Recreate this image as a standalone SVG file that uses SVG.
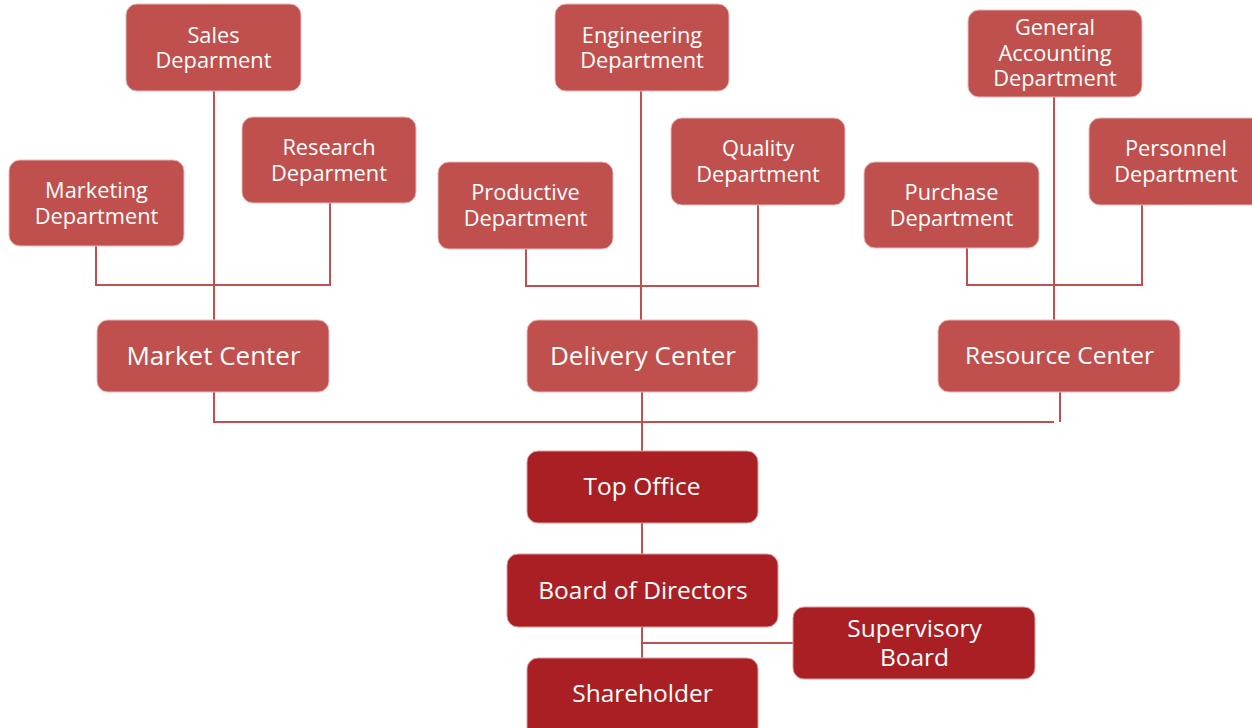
<svg xmlns="http://www.w3.org/2000/svg" width="1252" height="728" viewBox="0 0 1252 728">
<style>
.l{fill:#C0504D;stroke:#E8B9B8;stroke-width:1}
.d{fill:#A91F23;stroke:#D9A0A0;stroke-width:1}
.t{font-family:"Open Sans","Noto Sans",sans-serif;fill:#FFFFFF;text-anchor:middle}
.s{font-size:21.8px}
.m{font-size:24.5px}
.b{font-size:26px}
.c{stroke:#C0504D;stroke-width:2;fill:none}
</style>
<rect width="1252" height="728" fill="#FFFFFF"/>
<g id="connectors">
<path class="c" d="M214 91V320M96 246V285H330V203"/>
<path class="c" d="M641 91V320M526 249V286H758V205"/>
<path class="c" d="M1054 97V320M967 248V285H1142V205"/>
<path class="c" d="M214 392V422H1054M1060 392V422M642 392V451"/>
<path class="c" d="M642 523V554M642 627V658M642 643H793"/>
</g>
<g id="sales"><rect class="l" x="126" y="4" width="175" height="87" rx="11"/><text class="t s" x="213.5" y="42.5">Sales</text><text class="t s" x="213.5" y="68">Deparment</text></g>
<g id="research"><rect class="l" x="242" y="117" width="174" height="86" rx="11"/><text class="t s" x="329" y="155">Research</text><text class="t s" x="329" y="180.5">Deparment</text></g>
<g id="marketing"><rect class="l" x="9" y="160" width="175" height="86" rx="11"/><text class="t s" x="96.5" y="198">Marketing</text><text class="t s" x="96.5" y="223.5">Department</text></g>
<g id="engineering"><rect class="l" x="555" y="4" width="174" height="87" rx="11"/><text class="t s" x="642" y="42.5">Engineering</text><text class="t s" x="642" y="68">Department</text></g>
<g id="productive"><rect class="l" x="438" y="162" width="175" height="87" rx="11"/><text class="t s" x="525.5" y="200">Productive</text><text class="t s" x="525.5" y="225.5">Department</text></g>
<g id="quality"><rect class="l" x="671" y="118" width="174" height="87" rx="11"/><text class="t s" x="758" y="156">Quality</text><text class="t s" x="758" y="181.5">Department</text></g>
<g id="general-accounting"><rect class="l" x="968" y="10" width="174" height="87" rx="11"/><text class="t s" x="1055" y="35">General</text><text class="t s" x="1055" y="61">Accounting</text><text class="t s" x="1055" y="86">Department</text></g>
<g id="personnel"><rect class="l" x="1089" y="118" width="175" height="87" rx="11"/><text class="t s" x="1176" y="156">Personnel</text><text class="t s" x="1176" y="181.5">Department</text></g>
<g id="purchase"><rect class="l" x="864" y="162" width="175" height="86" rx="11"/><text class="t s" x="951.5" y="200">Purchase</text><text class="t s" x="951.5" y="225.5">Department</text></g>
<g id="market-center"><rect class="l" x="97" y="320" width="232" height="72" rx="11"/><text class="t b" x="213.5" y="365">Market Center</text></g>
<g id="delivery-center"><rect class="l" x="527" y="320" width="231" height="72" rx="11"/><text class="t b" x="643" y="365">Delivery Center</text></g>
<g id="resource-center"><rect class="l" x="938" y="320" width="242" height="72" rx="11"/><text class="t m" x="1059.5" y="364">Resource Center</text></g>
<g id="top-office"><rect class="d" x="527" y="451" width="231" height="72" rx="11"/><text class="t m" x="642" y="495">Top Office</text></g>
<g id="board-of-directors"><rect class="d" x="507" y="554" width="271" height="73" rx="11"/><text class="t m" x="643" y="599">Board of Directors</text></g>
<g id="supervisory-board"><rect class="d" x="793" y="607" width="242" height="72" rx="11"/><text class="t m" x="914.5" y="637">Supervisory</text><text class="t m" x="914.5" y="666">Board</text></g>
<g id="shareholder"><rect class="d" x="527" y="658" width="231" height="80" rx="11"/><text class="t m" x="642.5" y="702">Shareholder</text></g>
</svg>
